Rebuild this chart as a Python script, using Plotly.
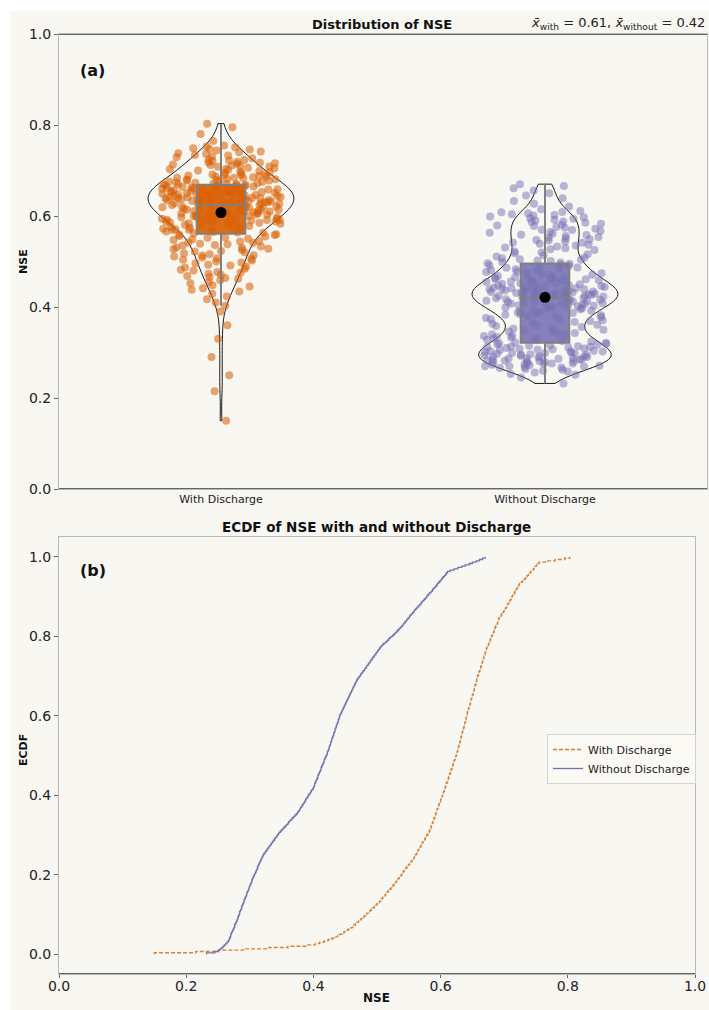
import numpy as np
import plotly.graph_objects as go

W, H = 709, 1010

# ---------------- data ----------------
categories = ["With Discharge", "Without Discharge"]

nse_with = [
    0.150, 0.215, 0.250, 0.290, 0.330, 0.360, 0.390,
    0.403, 0.410, 0.417, 0.423, 0.429,
    0.434, 0.438, 0.441, 0.445, 0.448, 0.452, 0.455, 0.459, 0.462,
    0.464, 0.466, 0.468, 0.471, 0.473, 0.475, 0.477, 0.480, 0.482, 0.484, 0.487, 0.489, 0.491, 0.493, 0.496, 0.498,
    0.500, 0.502, 0.504, 0.506, 0.507, 0.509, 0.511, 0.513, 0.514, 0.516, 0.518, 0.520, 0.522, 0.523, 0.525,
    0.527, 0.528, 0.530, 0.531, 0.533, 0.535, 0.536, 0.538, 0.539, 0.541, 0.542, 0.544, 0.545, 0.547, 0.549, 0.550,
    0.552, 0.553, 0.555, 0.556,
    0.558, 0.559, 0.560, 0.562, 0.563, 0.564, 0.565, 0.566, 0.568, 0.569, 0.570, 0.571, 0.572, 0.574, 0.575, 0.576,
    0.577, 0.578, 0.580, 0.581, 0.582, 0.583,
    0.584, 0.585, 0.585, 0.586, 0.587, 0.588, 0.588, 0.589, 0.590, 0.591, 0.591, 0.592, 0.593, 0.594, 0.594, 0.595,
    0.596, 0.597, 0.597, 0.598, 0.599, 0.600, 0.600, 0.601, 0.602, 0.603, 0.603, 0.604,
    0.605, 0.606, 0.606, 0.607, 0.608, 0.609, 0.609, 0.610, 0.611, 0.611, 0.612, 0.613, 0.614, 0.614, 0.615, 0.616,
    0.616, 0.617, 0.618, 0.619, 0.619, 0.620, 0.621, 0.621, 0.622, 0.623, 0.624, 0.624, 0.625,
    0.626, 0.626, 0.627, 0.627, 0.628, 0.628, 0.629, 0.630, 0.630, 0.631, 0.631, 0.632, 0.632, 0.633, 0.633, 0.634,
    0.634, 0.635, 0.635, 0.636, 0.637, 0.637, 0.638, 0.638, 0.639, 0.639, 0.640, 0.640, 0.641, 0.641,
    0.642, 0.642, 0.643, 0.644, 0.644, 0.645, 0.645, 0.646, 0.647, 0.647, 0.648, 0.648, 0.649, 0.650, 0.650, 0.651,
    0.651, 0.652, 0.653, 0.653, 0.654, 0.654, 0.655, 0.656, 0.656, 0.657, 0.657,
    0.658, 0.658, 0.659, 0.660, 0.660, 0.661, 0.662, 0.662, 0.663, 0.664, 0.664, 0.665, 0.666, 0.666, 0.667, 0.668,
    0.668, 0.669, 0.670, 0.670, 0.671, 0.671, 0.672,
    0.673, 0.674, 0.675, 0.676, 0.677, 0.678, 0.678, 0.679, 0.680, 0.681, 0.682, 0.683, 0.684, 0.684, 0.685, 0.686,
    0.687, 0.688, 0.689, 0.690, 0.690, 0.691, 0.692,
    0.694, 0.695, 0.696, 0.698, 0.699, 0.700, 0.701, 0.703, 0.704, 0.705, 0.706, 0.708, 0.709, 0.710, 0.711, 0.712,
    0.713,
    0.715, 0.716, 0.717, 0.718, 0.719, 0.721, 0.722, 0.723, 0.724,
    0.727, 0.729, 0.731, 0.733, 0.734, 0.736, 0.738, 0.740, 0.742, 0.744, 0.746, 0.747, 0.749, 0.751, 0.753, 0.755,
    0.765, 0.780, 0.795, 0.803,
]

nse_without = [
    0.232, 0.245,
    0.251, 0.253, 0.256, 0.258, 0.260, 0.262, 0.264,
    0.266, 0.267, 0.268, 0.269, 0.270, 0.270, 0.271, 0.272, 0.273, 0.274, 0.275, 0.276, 0.276, 0.277, 0.278,
    0.279, 0.280, 0.281, 0.281, 0.282, 0.283, 0.284, 0.284, 0.285, 0.286, 0.287, 0.287, 0.288, 0.289, 0.290,
    0.291, 0.291, 0.292, 0.293, 0.294, 0.295, 0.295, 0.296, 0.297, 0.298, 0.299, 0.299, 0.300, 0.301, 0.302, 0.303,
    0.303, 0.304, 0.305, 0.306,
    0.307, 0.308, 0.309, 0.310, 0.311, 0.312, 0.312, 0.313, 0.314, 0.315, 0.316, 0.317, 0.318, 0.319, 0.320, 0.321,
    0.322, 0.324, 0.325, 0.327, 0.328, 0.330, 0.331, 0.333, 0.334, 0.336, 0.337, 0.339, 0.340, 0.342, 0.343, 0.345,
    0.346,
    0.348, 0.350, 0.352, 0.354, 0.356, 0.358, 0.360, 0.361, 0.363, 0.365, 0.367, 0.369, 0.371, 0.373,
    0.375, 0.376, 0.378, 0.379, 0.380, 0.382, 0.383, 0.384, 0.386, 0.387, 0.388, 0.389, 0.391, 0.392, 0.393, 0.395,
    0.396, 0.397, 0.399, 0.400,
    0.401, 0.402, 0.402, 0.403, 0.404, 0.405, 0.406, 0.407, 0.407, 0.408, 0.409, 0.410, 0.411, 0.412, 0.412, 0.413,
    0.414, 0.415, 0.416, 0.417, 0.417, 0.418, 0.419, 0.420, 0.421,
    0.422, 0.422, 0.423, 0.424, 0.425, 0.425, 0.426, 0.427, 0.427, 0.428, 0.429, 0.429, 0.430, 0.431, 0.432, 0.432,
    0.433, 0.434, 0.434, 0.435, 0.436, 0.436, 0.437, 0.438, 0.439, 0.439, 0.440, 0.441, 0.441, 0.442,
    0.443, 0.444, 0.445, 0.446, 0.447, 0.448, 0.449, 0.450, 0.451, 0.452, 0.453, 0.454, 0.455, 0.456, 0.457, 0.458,
    0.459, 0.460, 0.461, 0.462, 0.463, 0.464, 0.465, 0.466, 0.467, 0.468,
    0.469, 0.471, 0.472, 0.474, 0.475, 0.477, 0.478, 0.480, 0.481, 0.483, 0.484, 0.486, 0.487, 0.489, 0.490, 0.492,
    0.493, 0.495, 0.496, 0.498, 0.499, 0.501, 0.502, 0.504, 0.505,
    0.507, 0.509, 0.511, 0.514, 0.516, 0.518, 0.520, 0.522, 0.525, 0.527, 0.529, 0.531, 0.533, 0.535,
    0.537, 0.539, 0.541, 0.542, 0.544, 0.546, 0.547, 0.549, 0.551, 0.552, 0.554, 0.556, 0.558, 0.559, 0.561,
    0.563, 0.565, 0.567, 0.569, 0.570, 0.572, 0.574, 0.576, 0.578, 0.579, 0.581, 0.583, 0.585, 0.587, 0.588,
    0.590, 0.592, 0.594, 0.595, 0.597, 0.599, 0.601, 0.602, 0.604, 0.606, 0.608, 0.609, 0.611,
    0.615, 0.621, 0.627, 0.633, 0.639,
    0.645, 0.650, 0.656, 0.661, 0.666, 0.670,
]

y_ticks = [0.0, 0.2, 0.4, 0.6, 0.8, 1.0]
ecdf_x_ticks = [0.0, 0.2, 0.4, 0.6, 0.8, 1.0]

# ---------------- style ----------------
FONT = "DejaVu Sans"
BG = "#f9f7f2"
ORANGE = "#d95f02"
PURPLE = "#7570b3"
DARK = "#333333"
SPINE = "#b8b8b8"

point_colors = ["rgba(217,95,2,0.55)", "rgba(117,112,179,0.5)"]
box_fills = ["rgba(217,95,2,0.92)", "rgba(117,112,179,0.88)"]
bandwidths = [0.026, 0.021]

def px_x(p):
    return p / W

def px_y(p):
    return 1 - p / H

fig = go.Figure()

series = [nse_with, nse_without]

# ---------------- panel (a) ----------------
for cat, vals, pc, bf, bw in zip(categories, series, point_colors, box_fills, bandwidths):
    n = len(vals)
    # jittered points
    fig.add_trace(go.Box(
        x=[cat] * n, y=vals, xaxis="x", yaxis="y",
        boxpoints="all", jitter=1, pointpos=0, width=0.38,
        line=dict(width=0, color="rgba(0,0,0,0)"), fillcolor="rgba(0,0,0,0)",
        whiskerwidth=0,
        marker=dict(color=pc, size=8, line=dict(width=0)),
        showlegend=False, hoverinfo="skip",
    ))
    # box (whiskers at 1.5 IQR, outlier markers hidden)
    fig.add_trace(go.Box(
        x=[cat] * n, y=vals, xaxis="x", yaxis="y",
        boxpoints="outliers", width=0.15,
        marker=dict(size=0, opacity=0, color="rgba(0,0,0,0)"),
        line=dict(width=2, color="#808080"), fillcolor=bf,
        whiskerwidth=0, showlegend=False, hoverinfo="skip",
    ))
    # violin outline
    fig.add_trace(go.Violin(
        x=[cat] * n, y=vals, xaxis="x", yaxis="y",
        points=False, width=0.45, scalemode="width", spanmode="hard",
        bandwidth=bw, line=dict(color="#1a1a1a", width=1),
        fillcolor="rgba(0,0,0,0)", box_visible=False, meanline_visible=False,
        showlegend=False, hoverinfo="skip",
    ))

means = [float(np.mean(v)) for v in series]
fig.add_trace(go.Scatter(
    x=categories, y=means, xaxis="x", yaxis="y", mode="markers",
    marker=dict(color="black", size=11), showlegend=False, hoverinfo="skip",
))

# ---------------- panel (b): ECDF ----------------
ecdf_styles = [
    dict(color="rgba(210,115,35,0.9)", width=1.4, dash="4px,2px"),
    dict(color=PURPLE, width=1.3),
]
for cat, vals, ls in zip(categories, series, ecdf_styles):
    s = np.sort(np.asarray(vals))
    n = len(s)
    xs = np.concatenate([[s[0]], s])
    ys = np.concatenate([[0.0], np.arange(1, n + 1) / n])
    fig.add_trace(go.Scatter(
        x=xs, y=ys, xaxis="x2", yaxis="y2", mode="lines",
        line=dict(shape="hv", **ls), name=cat, hoverinfo="skip",
    ))

tickfont = dict(family=FONT, size=14, color="#222")

fig.update_layout(
    width=W, height=H, autosize=False,
    margin=dict(l=0, r=0, t=0, b=0),
    paper_bgcolor=BG, plot_bgcolor=BG,
    font=dict(family=FONT, color="#222"),
    boxmode="overlay", violinmode="overlay",
    xaxis=dict(
        domain=[px_x(59), px_x(707)], anchor="y",
        type="category", categoryorder="array", categoryarray=categories,
        range=[-0.5, 1.5], showgrid=False, zeroline=False,
        showline=True, mirror=True, linecolor=SPINE, linewidth=1,
        ticks="", tickfont=dict(family=FONT, size=11, color="#222"),
        automargin=False, fixedrange=True,
    ),
    yaxis=dict(
        domain=[px_y(489), px_y(34)], anchor="x",
        range=[0, 1], tickvals=y_ticks, tickformat=".1f",
        showgrid=False, zeroline=False,
        showline=True, mirror=True, linecolor=SPINE, linewidth=1,
        ticks="outside", ticklen=4, tickcolor="#666", tickfont=tickfont,
        automargin=False,
    ),
    xaxis2=dict(
        domain=[px_x(59), px_x(695)], anchor="y2",
        range=[0, 1], tickvals=ecdf_x_ticks, tickformat=".1f",
        showgrid=False, zeroline=False,
        showline=True, mirror=True, linecolor=SPINE, linewidth=1,
        ticks="outside", ticklen=3, tickcolor="#666", tickfont=tickfont,
        ticklabelstandoff=-4, automargin=False,
    ),
    yaxis2=dict(
        domain=[px_y(974), px_y(537)], anchor="x2",
        range=[-0.05, 1.05], tickvals=y_ticks, tickformat=".1f",
        showgrid=False, zeroline=False,
        showline=True, mirror=True, linecolor=SPINE, linewidth=1,
        ticks="outside", ticklen=4, tickcolor="#666", tickfont=tickfont,
        automargin=False,
    ),
    legend=dict(
        x=px_x(547), y=px_y(734), xanchor="left", yanchor="top",
        bgcolor="rgba(250,248,244,0.9)", bordercolor="#d4d4d4", borderwidth=1,
        font=dict(family=FONT, size=11, color="#222"), tracegroupgap=0,
    ),
    shapes=[
        # white strip of the page on top and left
        dict(type="rect", xref="paper", yref="paper", x0=0, x1=px_x(10), y0=0, y1=1,
             fillcolor="white", line=dict(width=0), layer="below"),
        dict(type="rect", xref="paper", yref="paper", x0=0, x1=1, y0=px_y(11), y1=1,
             fillcolor="white", line=dict(width=0), layer="below"),
        # dark horizontal spines
        dict(type="line", xref="x domain", yref="y", x0=0, x1=1, y0=0, y1=0,
             line=dict(color=DARK, width=1.3)),
        dict(type="line", xref="x domain", yref="y", x0=0, x1=1, y0=1, y1=1,
             line=dict(color=DARK, width=1.3)),
        dict(type="line", xref="x2 domain", yref="y2", x0=0, x1=1, y0=-0.05, y1=-0.05,
             line=dict(color=DARK, width=1.3)),
    ],
)

mean_text = ("<i>x̄</i><sub>with</sub> = %.2f, <i>x̄</i><sub>without</sub> = %.2f"
             % (means[0], means[1]))

annotations = [
    dict(text="<b>Distribution of NSE</b>", x=px_x(382), y=px_y(24),
         font=dict(family=FONT, size=13, color="#111")),
    dict(text=mean_text, x=px_x(707), y=px_y(23), xanchor="right",
         font=dict(family=FONT, size=13, color="#222")),
    dict(text="<b>(a)</b>", x=px_x(78), y=px_y(70), xanchor="left",
         font=dict(family=FONT, size=16, color="#111")),
    dict(text="<b>NSE</b>", x=px_x(23), y=px_y(262), textangle=-90,
         font=dict(family=FONT, size=11, color="#111")),
    dict(text="<b>ECDF of NSE with and without Discharge</b>", x=px_x(377), y=px_y(527),
         font=dict(family=FONT, size=13.5, color="#111")),
    dict(text="<b>(b)</b>", x=px_x(78), y=px_y(570), xanchor="left",
         font=dict(family=FONT, size=16, color="#111")),
    dict(text="<b>ECDF</b>", x=px_x(23), y=px_y(750), textangle=-90,
         font=dict(family=FONT, size=11, color="#111")),
    dict(text="<b>NSE</b>", x=px_x(377), y=px_y(998),
         font=dict(family=FONT, size=12, color="#111")),
]
for a in annotations:
    a.setdefault("xanchor", "center")
    a.update(xref="paper", yref="paper", yanchor="middle", showarrow=False)
fig.update_layout(annotations=annotations)

fig.write_html("out.html")
